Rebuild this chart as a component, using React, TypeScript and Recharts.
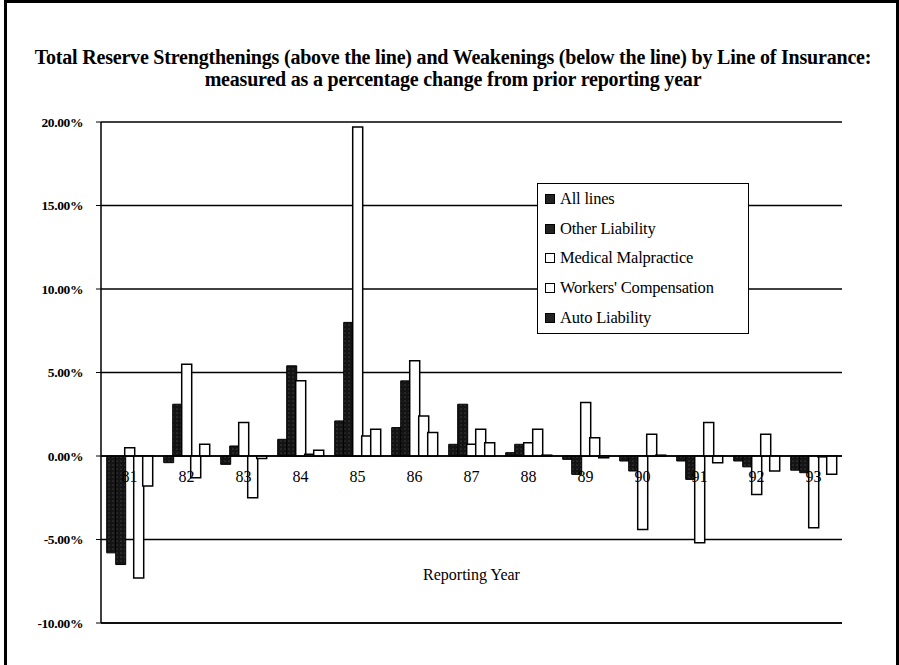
import React from 'react';
import {
  ComposedChart, Bar, Line, XAxis, YAxis, CartesianGrid, ReferenceLine, LabelList,
} from 'recharts';

const years = ['81', '82', '83', '84', '85', '86', '87', '88', '89', '90', '91', '92', '93'];
const allLines = [-5.8, -0.4, -0.5, 1.0, 2.1, 1.7, 0.7, 0.2, -0.2, -0.3, -0.3, -0.3, -0.85];
const otherLiability = [-6.5, 3.1, 0.6, 5.4, 8.0, 4.5, 3.1, 0.7, -1.1, -0.9, -1.4, -0.65, -1.0];
const medicalMalpractice = [0.5, 5.5, 2.0, 4.5, 19.7, 5.7, 0.7, 0.8, 3.2, -4.4, -5.2, -2.3, -4.3];
const workersComp = [-7.3, -1.3, -2.5, 0.1, 1.2, 2.4, 1.6, 1.6, 1.1, 1.3, 2.0, 1.3, -0.05];
const autoLiability = [-1.8, 0.7, -0.15, 0.35, 1.6, 1.4, 0.8, 0.05, -0.1, 0.05, -0.4, -0.9, -1.1];
const yTicks = [-10, -5, 0, 5, 10, 15, 20];

const seriesNames = ['All lines', 'Other Liability', 'Medical Malpractice', "Workers' Compensation", 'Auto Liability'];
const legendDark = [true, true, false, false, true];

const titleLine1 = 'Total Reserve Strengthenings (above the line) and Weakenings (below the line) by Line of Insurance:';
const titleLine2 = 'measured as a percentage change from prior reporting year';
const xTitle = 'Reporting Year';

const data = years.map((y, i) => ({
  year: y,
  all: allLines[i],
  other: otherLiability[i],
  med: medicalMalpractice[i],
  work: workersComp[i],
  auto: autoLiability[i],
  zero: 0,
}));

const FONT = '"Liberation Serif", "DejaVu Serif", serif';

export default function App() {
  return (
    <div style={{ position: 'absolute', left: 0, top: 0, width: 899, height: 665, overflow: 'hidden', background: '#fff', fontFamily: FONT }}>
      <div style={{ position: 'absolute', left: 4, top: 0, width: 895, height: 720, border: '3px solid #000', boxSizing: 'border-box' }} />
      <div style={{ position: 'absolute', left: 0, top: 46, width: 906, textAlign: 'center', fontSize: 20, fontWeight: 'bold', lineHeight: '22px', color: '#000', letterSpacing: -0.2 }}>
        <div>{titleLine1}</div>
        <div>{titleLine2}</div>
      </div>
      <ComposedChart
        width={899}
        height={665}
        data={data}
        margin={{ top: 122, right: 57, bottom: 41, left: 0 }}
        barCategoryGap="10%"
        barGap={-1}
        style={{ position: 'absolute', left: 0, top: 0 }}
      >
        <defs>
          <pattern id="darkPat" width="4" height="4" patternUnits="userSpaceOnUse">
            <rect width="4" height="4" fill="#141414" />
            <circle cx="1" cy="1" r="0.5" fill="#777" />
          </pattern>
        </defs>
        <CartesianGrid vertical={false} stroke="#000" strokeWidth={1.3} strokeOpacity={1} />
        <XAxis dataKey="year" height={1} tick={false} axisLine={{ stroke: '#000', strokeWidth: 1.5 }} tickLine={false} />
        <YAxis
          width={101}
          domain={[-10, 20]}
          ticks={yTicks}
          interval={0}
          tickFormatter={(v: number) => `${v.toFixed(2)}%`}
          tick={{ fill: '#000', fontSize: 13.5, fontFamily: FONT, fontWeight: 'bold', letterSpacing: -0.4 }}
          tickSize={5}
          tickMargin={13}
          axisLine={{ stroke: '#000', strokeWidth: 1.5 }}
          tickLine={{ stroke: '#000' }}
        />
        <YAxis yAxisId="right" orientation="right" width={0} domain={[-10, 20]} tick={false} tickLine={false} axisLine={{ stroke: '#000', strokeWidth: 1.5 }} />
        <Bar dataKey="all" name={seriesNames[0]} fill="url(#darkPat)" stroke="#000" strokeWidth={1} isAnimationActive={false} />
        <Bar dataKey="other" name={seriesNames[1]} fill="url(#darkPat)" stroke="#000" strokeWidth={1} isAnimationActive={false} />
        <Bar dataKey="med" name={seriesNames[2]} fill="#fff" stroke="#000" strokeWidth={1.5} isAnimationActive={false} />
        <Bar dataKey="work" name={seriesNames[3]} fill="#fff" stroke="#000" strokeWidth={1.5} isAnimationActive={false} />
        <Bar dataKey="auto" name={seriesNames[4]} fill="#fff" stroke="#000" strokeWidth={1.5} isAnimationActive={false} />
        <ReferenceLine y={0} stroke="#000" strokeWidth={1.3} />
        <ReferenceLine
          y={-7.1}
          stroke="none"
          label={{ value: xTitle, position: 'center', fill: '#000', fontSize: 16, fontFamily: FONT }}
        />
        <Line dataKey="zero" stroke="none" dot={false} activeDot={false} legendType="none" isAnimationActive={false}>
          <LabelList dataKey="year" position="bottom" offset={15} fill="#000" fontSize={16} fontFamily={FONT} />
        </Line>
      </ComposedChart>
      <div style={{ position: 'absolute', left: 537, top: 183, width: 212, height: 151, border: '1.5px solid #000', background: '#fff', boxSizing: 'border-box', padding: '0 0 0 7px' }}>
        {seriesNames.map((n, i) => (
          <div key={n} style={{ height: 29.7, display: 'flex', alignItems: 'center', fontSize: 16.5, color: '#000', letterSpacing: -0.2 }}>
            <span style={{ display: 'inline-block', width: 8, height: 8, border: '1.3px solid #000', background: legendDark[i] ? '#222' : '#fff', marginRight: 5 }} />
            <span>{n}</span>
          </div>
        ))}
      </div>
    </div>
  );
}
